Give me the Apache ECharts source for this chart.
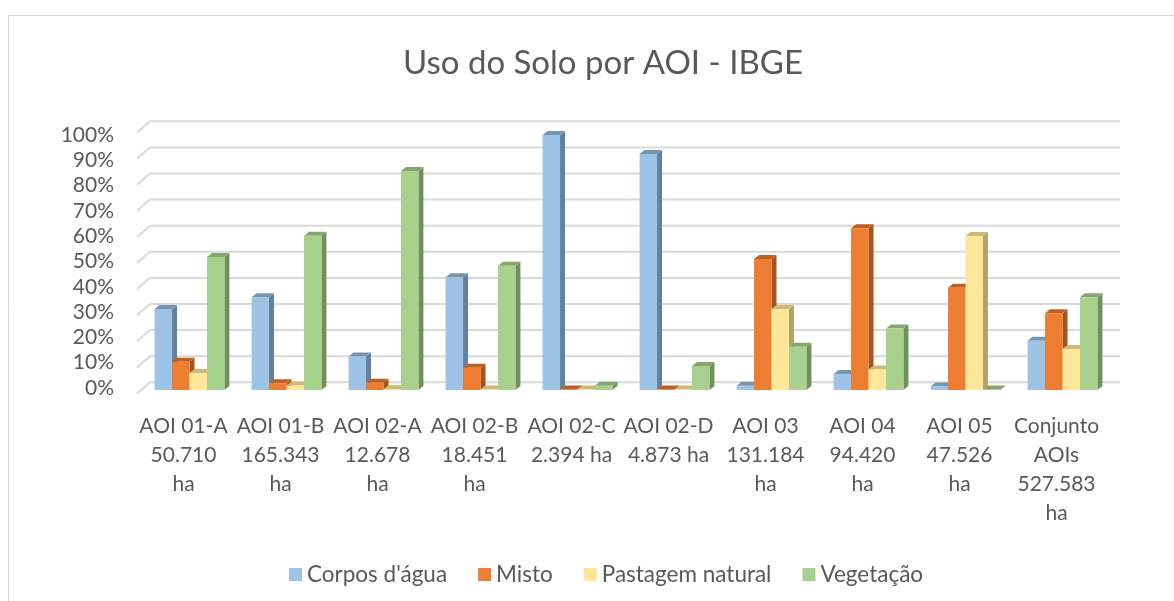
<!DOCTYPE html>
<html>
<head>
<meta charset="UTF-8">
<title>Uso do Solo por AOI - IBGE</title>
<script src="https://cdn.jsdelivr.net/npm/echarts@6.0.0/dist/echarts.min.js"></script>
<style>
    html, body { margin: 0; padding: 0; background: #fff; }
    #main { width: 1174px; height: 601px; }
</style>
</head>
<body>
<div id="main"></div>
<script type="text/javascript">
    // categorias (nome + area)
    var categories = [
        'AOI 01-A\n50.710\nha', 'AOI 01-B\n165.343\nha', 'AOI 02-A\n12.678\nha',
        'AOI 02-B\n18.451\nha', 'AOI 02-C\n2.394 ha', 'AOI 02-D\n4.873 ha',
        'AOI 03\n131.184\nha', 'AOI 04\n94.420\nha', 'AOI 05\n47.526\nha',
        'Conjunto\nAOIs\n527.583\nha'
    ];
    var seriesNames = ["Corpos d'água", 'Misto', 'Pastagem natural', 'Vegetação'];
    var corposAgua = [0.310, 0.355, 0.128, 0.432, 0.977, 0.904, 0.016, 0.061, 0.013, 0.189];
    var misto      = [0.108, 0.026, 0.028, 0.085, 0.002, 0.002, 0.502, 0.620, 0.392, 0.294];
    var pastagem   = [0.065, 0.017, 0.003, 0.002, 0.002, 0.002, 0.310, 0.079, 0.590, 0.157];
    var vegetacao  = [0.510, 0.591, 0.839, 0.476, 0.016, 0.092, 0.166, 0.236, 0.002, 0.355];
    var yTicks = [0, 0.1, 0.2, 0.3, 0.4, 0.5, 0.6, 0.7, 0.8, 0.9, 1];

    var colors = ['#9DC3E6', '#ED7D31', '#FFE699', '#A9D18E'];
    var sideColors = ['#64819C', '#A3541F', '#B3A26B', '#718F5D'];
    var topColors = ['#7895B0', '#BC6125', '#CDB97A', '#86A66F'];
    var FONT = 'Lato, "Open Sans", sans-serif';
    var TXT = '#595959';

    var myChart = echarts.init(document.getElementById('main'));

    // barras "3D": face frontal, lateral e topo
    function barRenderer(k) {
        return function (params, api) {
            var i = api.value(0), v = api.value(1);
            var base = api.coord([i, 0]);
            var top = api.coord([i, v]);
            var band = api.size([1, 0])[0];
            var w = band * 0.18;
            var x0 = base[0] - 2 * w + k * w;
            var x1 = x0 + w;
            var y0 = base[1], y1 = top[1];
            var dx = 5, dy = 4;
            return {
                type: 'group',
                children: [
                    { type: 'polygon', shape: { points: [[x1, y0], [x1 + dx, y0 - dy], [x1 + dx, y1 - dy], [x1, y1]] },
                      style: { fill: sideColors[k] } },
                    { type: 'polygon', shape: { points: [[x0, y1], [x0 + dx, y1 - dy], [x1 + dx, y1 - dy], [x1, y1]] },
                      style: { fill: topColors[k] } },
                    { type: 'rect', shape: { x: x0, y: y1, width: w, height: y0 - y1 },
                      style: { fill: colors[k] } }
                ]
            };
        };
    }

    // linhas de grade na parede do fundo
    function gridRenderer(params, api) {
        var cs = params.coordSys;
        var y = api.coord([0, api.value(1)])[1];
        return {
            type: 'polyline',
            shape: { points: [[cs.x - 4, y + 3.5], [cs.x + 9, y - 7.7], [cs.x + cs.width + 9, y - 7.7]] },
            style: { stroke: '#D9D9D9', lineWidth: 2, fill: null }
        };
    }

    var dataSets = [corposAgua, misto, pastagem, vegetacao];
    var series = [{
        type: 'custom',
        name: 'grade',
        xAxisIndex: 0,
        yAxisIndex: 0,
        silent: true,
        z: 1,
        renderItem: gridRenderer,
        data: yTicks.map(function (t) { return [0, t]; })
    }];
    for (var k = 0; k < 4; k++) {
        series.push({
            type: 'custom',
            name: seriesNames[k],
            xAxisIndex: 0,
            yAxisIndex: 0,
            z: 2,
            itemStyle: { color: colors[k] },
            renderItem: barRenderer(k),
            data: dataSets[k].map(function (v, i) { return [i, v]; })
        });
    }

    var option = {
        backgroundColor: '#fff',
        animation: false,
        title: {
            text: 'Uso do Solo por AOI - IBGE',
            left: 398,
            top: 39,
            textStyle: { fontFamily: FONT, fontSize: 33, fontWeight: 'normal', color: TXT, lineHeight: 38 }
        },
        legend: {
            data: seriesNames,
            left: 284,
            top: 558,
            icon: 'rect',
            itemWidth: 13,
            itemHeight: 13,
            itemGap: 31,
            textStyle: { fontFamily: FONT, fontSize: 22.5, color: TXT, lineHeight: 22 }
        },
        grid: [
            { left: 141, top: 129, width: 970, height: 261 },
            { left: 137, top: 135, width: 970, height: 253 }
        ],
        xAxis: [
            {
                type: 'category',
                gridIndex: 0,
                data: categories,
                axisLine: { show: false },
                axisTick: { show: false },
                splitLine: { show: false },
                axisLabel: {
                    interval: 0,
                    margin: 22,
                    padding: [0, 12, 0, 0],
                    fontFamily: FONT,
                    fontSize: 21,
                    lineHeight: 29,
                    color: TXT
                }
            },
            { type: 'value', gridIndex: 1, show: false }
        ],
        yAxis: [
            { type: 'value', gridIndex: 0, min: 0, max: 1, interval: 0.1, show: false },
            {
                type: 'value',
                gridIndex: 1,
                min: 0,
                max: 1,
                interval: 0.1,
                axisLine: { show: false },
                axisTick: { show: false },
                splitLine: { show: false },
                axisLabel: {
                    margin: 23,
                    fontFamily: FONT,
                    fontSize: 21,
                    color: TXT,
                    formatter: function (v) { return Math.round(v * 100) + '%'; }
                }
            }
        ],
        graphic: [{
            type: 'rect',
            silent: true,
            shape: { x: 8.5, y: 15.5, width: 1200, height: 700 },
            style: { fill: null, stroke: '#D9D9D9', lineWidth: 1 }
        }],
        series: series
    };

    myChart.setOption(option);
</script>
</body>
</html>
